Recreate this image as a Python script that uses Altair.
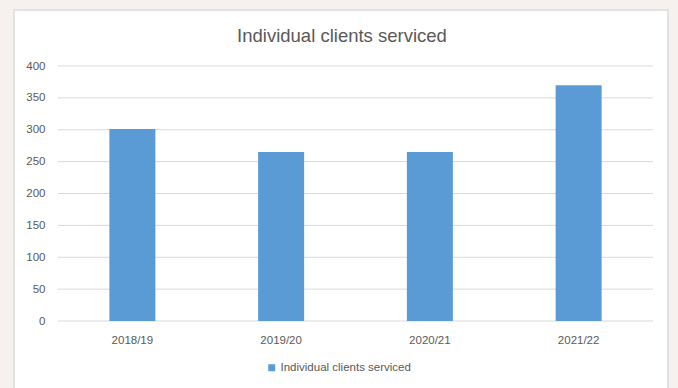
import altair as alt
import pandas as pd

years = ["2018/19", "2019/20", "2020/21", "2021/22"]
clients = [301, 265, 265, 370]
series_name = "Individual clients serviced"
chart_title = "Individual clients serviced"
y_ticks = [0, 50, 100, 150, 200, 250, 300, 350, 400]

df = pd.DataFrame({"year": years, "value": clients, "series": [series_name] * len(years)})
grid_df = pd.DataFrame({"tick": y_ticks})
one_df = pd.DataFrame({"t": [chart_title]})

W, H = 595, 255
GRAY = "#595959"

y_scale = alt.Scale(domain=[0, 400], nice=False)
y_axis = alt.Axis(values=y_ticks, ticks=False, domain=False, grid=False, zindex=1,
                  labelOverlap=False, labelPadding=13, labelFontSize=11.5, labelColor=GRAY)

frame = alt.Chart(one_df).mark_rect(
    color="white", stroke="#e2e2e2", strokeWidth=2
).encode(
    x=alt.value(-44), x2=alt.value(610), y=alt.value(-56), y2=alt.value(330)
)

title = alt.Chart(one_df).mark_text(
    fontSize=18.5, color=GRAY, font="Liberation Sans", align="center", baseline="middle"
).encode(text="t:N", x=alt.value(284), y=alt.value(-30))

grid = alt.Chart(grid_df).mark_rule(color="#d9d9d9", strokeWidth=1).encode(
    y=alt.Y("tick:Q", scale=y_scale, axis=y_axis, title=None),
    x=alt.value(0), x2=alt.value(W),
)

bars = alt.Chart(df).mark_bar(size=46, color="#5b9bd5").encode(
    x=alt.X("year:N", sort=years, title=None,
            scale=alt.Scale(paddingInner=0, paddingOuter=0),
            axis=alt.Axis(labelAngle=0, ticks=False, domain=False, zindex=1,
                          labelPadding=13, labelFontSize=11.5, labelColor=GRAY, grid=False)),
    y=alt.Y("value:Q", title=None, scale=y_scale, axis=y_axis),
    color=alt.Color("series:N", scale=alt.Scale(range=["#5b9bd5"]),
                    legend=alt.Legend(title=None, orient="none", legendX=208, legendY=296,
                                      symbolType="square", symbolSize=49, labelFontSize=11.5,
                                      labelColor=GRAY, symbolStrokeWidth=0, labelOffset=3)),
)

chart = alt.layer(frame, title, grid, bars).properties(
    width=W, height=H,
    padding={"left": 58, "top": 66, "right": 25, "bottom": 67},
    autosize=alt.AutoSizeParams(type="none"),
    background="#f6f1ef",
).configure_view(stroke=None).configure(font="Liberation Sans")

chart.save("out.html", embed_options={"renderer": "svg", "actions": False})
